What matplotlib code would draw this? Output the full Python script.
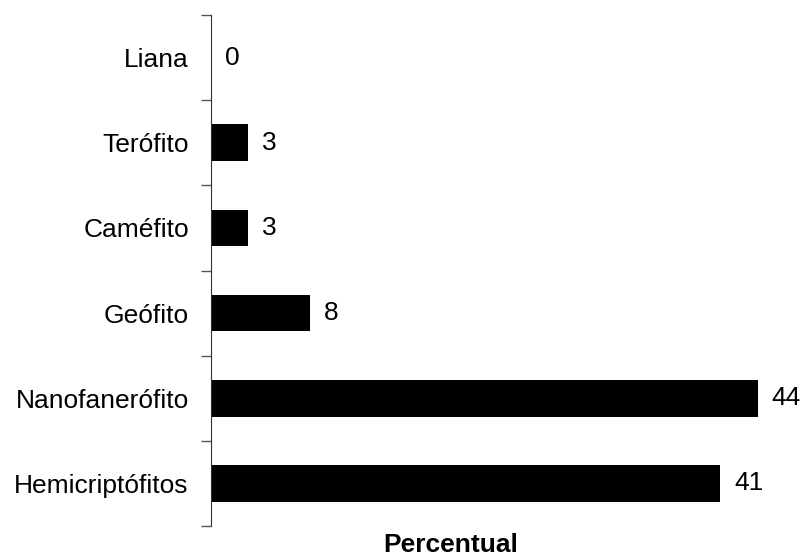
import matplotlib
matplotlib.use("Agg")
import matplotlib.pyplot as plt
import numpy as np

plt.rcParams['font.family'] = ['Liberation Sans', 'DejaVu Sans']

categories = ["Hemicriptófitos", "Nanofanerófito", "Geófito", "Caméfito", "Terófito", "Liana"]
values = [41, 44, 8, 3, 3, 0]
labels = ["41", "44", "8", "3", "3", "0"]

fs = 19

fig = plt.figure(figsize=(8.05, 5.59), dpi=100)
ax = fig.add_axes([211 / 805, 1 - 526 / 559, (795 - 211) / 805, (526 - 15) / 559])

y = np.arange(len(categories))
ax.barh(y, values, height=0.43, color="black")
for yi, v, lab in zip(y, values, labels):
    ax.text(v + 1.1, yi, lab, va="center", ha="left", fontsize=fs)

ax.set_xlim(0, 47)
ax.set_ylim(-0.5, len(categories) - 0.5)
ax.set_yticks(y)
ax.set_yticklabels(categories, fontsize=fs)
ax.set_yticks(np.arange(-0.5, len(categories)), minor=True)
ax.tick_params(axis="y", which="major", length=0, pad=16)
ax.tick_params(axis="y", which="minor", length=7, color="#555555", width=1)
ax.set_xticks([])
for s in ["top", "right", "bottom"]:
    ax.spines[s].set_visible(False)
ax.spines["left"].set_color("#333333")

fig.text(451 / 805, 1 - 545 / 559, "Percentual", ha="center", va="center",
         fontsize=fs, fontweight="bold")

fig.savefig("out.png", dpi=100)
